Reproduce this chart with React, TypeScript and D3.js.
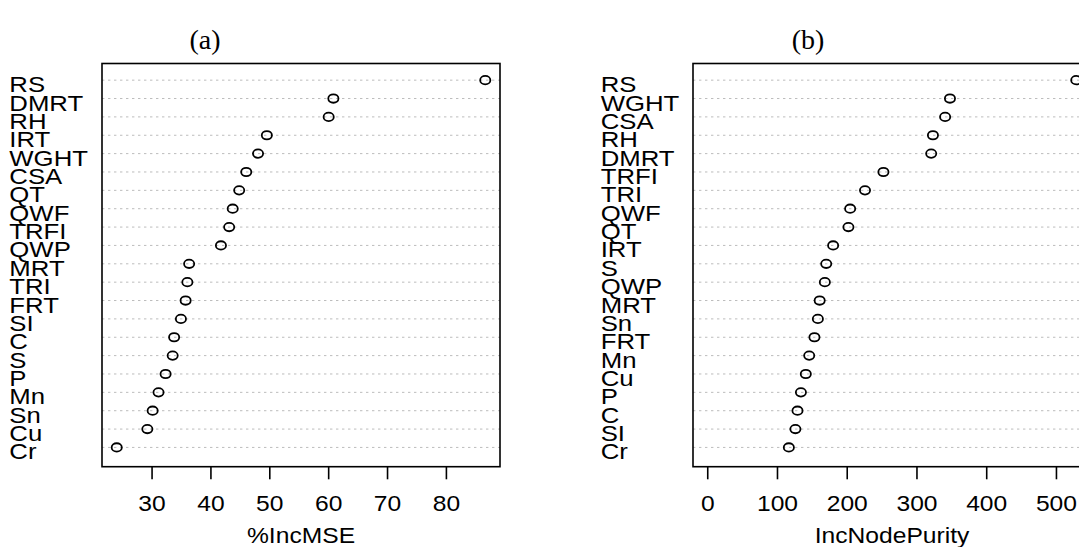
import React from "react";
import * as d3 from "d3";

const leftLabels = ["RS","DMRT","RH","IRT","WGHT","CSA","QT","QWF","TRFI","QWP","MRT","TRI","FRT","SI","C","S","P","Mn","Sn","Cu","Cr"];
const leftValues = [86.6,60.8,60.0,49.5,48.0,46.0,44.8,43.7,43.1,41.7,36.3,36.0,35.7,34.9,33.75,33.5,32.3,31.1,30.1,29.2,24.0];
const leftTicks = [30,40,50,60,70,80];

const rightLabels = ["RS","WGHT","CSA","RH","DMRT","TRFI","TRI","QWF","QT","IRT","S","QWP","MRT","Sn","FRT","Mn","Cu","P","C","SI","Cr"];
const rightValues = [528.4,347.3,340.4,322.9,320.4,251.9,225.5,204.2,201.7,179.8,169.9,167.9,160.5,157.9,153,145.5,140.6,133.6,128.7,125.7,116.3];
const rightTicks = [0,100,200,300,400,500];

const W = 1079, H = 547;
const FONT = "'Liberation Sans', Arial, sans-serif";
const SX = 1.12;
const FS = 23;

const boxTop = 63.5, boxBottom = 466.7;
const y = d3.scaleLinear().domain([0, 22]).range([465.8, 61.8]);

type PanelProps = {
  labels: string[]; values: number[]; ticks: number[];
  boxLeft: number; boxRight: number; labelX: number;
  xmin: number; title: string; xlab: string; titleX: number;
};

function T({ x, y, anchor = "start", children, size = FS, family = FONT, sx = SX }: any) {
  return (
    <text transform={`translate(${x},${y}) scale(${sx},1)`} textAnchor={anchor}
      fontFamily={family} fontSize={size} fill="#000">{children}</text>
  );
}

function Panel(p: PanelProps) {
  const lo = p.xmin !== undefined ? Math.min(p.xmin, d3.min(p.values)!) : d3.min(p.values)!;
  const hi = d3.max(p.values)!;
  const r = hi - lo;
  const x = d3.scaleLinear().domain([lo - 0.04 * r, hi + 0.04 * r]).range([p.boxLeft, p.boxRight]);
  const n = p.labels.length;
  return (
    <g>
      {p.labels.map((lab, i) => {
        const yy = y(n - i);
        return (
          <g key={lab + i}>
            <line x1={p.boxLeft} x2={p.boxRight} y1={yy} y2={yy} stroke="#bcbcbc" strokeWidth={1} strokeDasharray="2.4 3.6" />
            <ellipse cx={x(p.values[i])} cy={yy} rx={5.1} ry={4.2} fill="none" stroke="#000" strokeWidth={1.8} />
            <T x={p.labelX} y={yy + 12}>{lab}</T>
          </g>
        );
      })}
      <rect x={p.boxLeft} y={boxTop} width={p.boxRight - p.boxLeft} height={boxBottom - boxTop} fill="none" stroke="#000" strokeWidth={1.6} />
      {p.ticks.map(t => (
        <g key={t}>
          <line x1={x(t)} x2={x(t)} y1={boxBottom} y2={boxBottom + 12.6} stroke="#000" strokeWidth={1.6} />
          <T x={x(t)} y={511} anchor="middle" size={22} sx={1.12}>{t}</T>
        </g>
      ))}
      <T x={(p.boxLeft + p.boxRight) / 2} y={543} anchor="middle" size={22} sx={1.12}>{p.xlab}</T>
      <T x={p.titleX} y={49} anchor="middle" size={28} family="'Liberation Serif', 'DejaVu Serif', serif" sx={1}>{p.title}</T>
    </g>
  );
}

export default function App() {
  return (
    <svg width={W} height={H} style={{ position: "absolute", left: 0, top: 0, background: "#fff" }}>
      <rect x={0} y={0} width={W} height={H} fill="#fff" />
      <Panel labels={leftLabels} values={leftValues} ticks={leftTicks}
        boxLeft={102} boxRight={500} labelX={9.3} xmin={undefined as any}
        title="(a)" xlab="%IncMSE" titleX={205} />
      <Panel labels={rightLabels} values={rightValues} ticks={rightTicks}
        boxLeft={693} boxRight={1091} labelX={600.7} xmin={0}
        title="(b)" xlab="IncNodePurity" titleX={808} />
    </svg>
  );
}
